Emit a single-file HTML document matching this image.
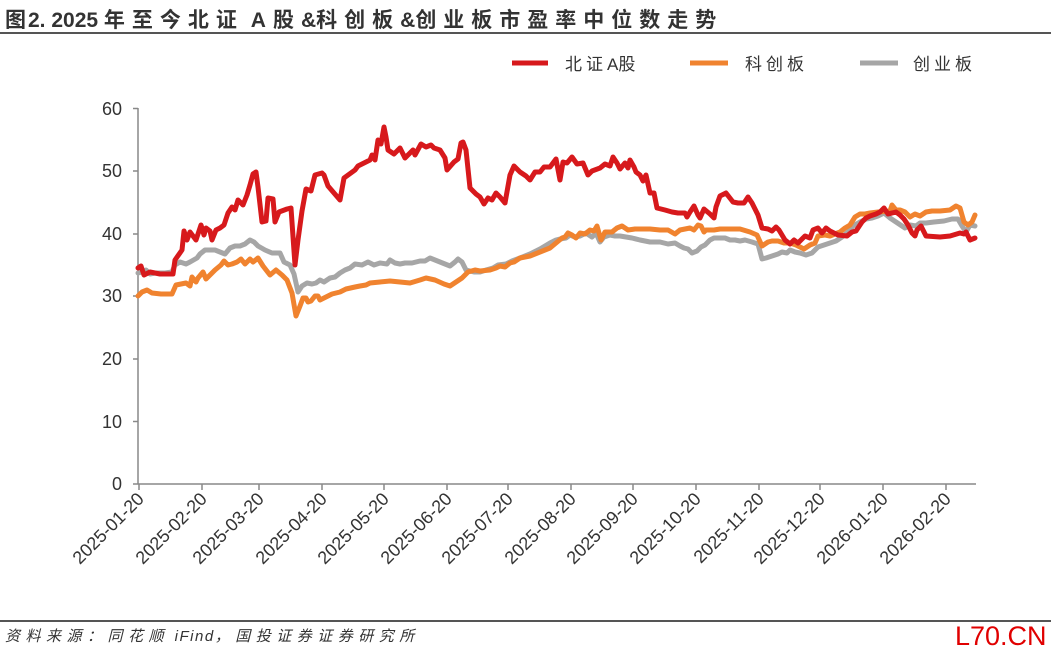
<!DOCTYPE html>
<html><head><meta charset="utf-8"><style>
html,body{margin:0;padding:0;background:#fff;}
body{width:1051px;height:651px;overflow:hidden;position:relative;font-family:"Liberation Sans","Noto Sans CJK SC",sans-serif;}
</style></head><body>
<svg width="1051" height="651" viewBox="0 0 1051 651" xmlns="http://www.w3.org/2000/svg" style="position:absolute;left:0;top:0">
<text x="5" y="27" font-size="21" font-weight="bold" fill="#333" font-family="Liberation Sans,Noto Sans CJK SC,sans-serif"><tspan letter-spacing="2">图</tspan><tspan letter-spacing="0">2. 2025 </tspan><tspan letter-spacing="7">年至今北证</tspan><tspan letter-spacing="1"> A </tspan><tspan letter-spacing="7">股</tspan><tspan letter-spacing="0">&amp;</tspan><tspan letter-spacing="7">科创板</tspan><tspan letter-spacing="0">&amp;</tspan><tspan letter-spacing="7">创业板市盈率中位数走势</tspan></text>
<line x1="0" y1="33" x2="1051" y2="33" stroke="#555" stroke-width="2"/>
<g font-size="17" fill="#333" font-family="Liberation Sans,Noto Sans CJK SC,sans-serif">
<line x1="512" y1="63" x2="548" y2="63" stroke="#d7191c" stroke-width="5"/><text x="565" y="70"><tspan letter-spacing="4">北证</tspan>A<tspan letter-spacing="0">股</tspan></text>
<line x1="690" y1="63" x2="728" y2="63" stroke="#f0832f" stroke-width="5"/><text x="745" y="70" letter-spacing="4">科创板</text>
<line x1="860" y1="63" x2="898" y2="63" stroke="#a6a6a6" stroke-width="5"/><text x="913" y="70" letter-spacing="4">创业板</text>
</g>
<g stroke="#888" stroke-width="1.5">
<line x1="138" y1="108" x2="138" y2="484"/>
<line x1="138" y1="484" x2="976" y2="484"/>
<line x1="133" y1="108.5" x2="138" y2="108.5"/><line x1="133" y1="171" x2="138" y2="171"/><line x1="133" y1="234" x2="138" y2="234"/><line x1="133" y1="296" x2="138" y2="296"/><line x1="133" y1="359" x2="138" y2="359"/><line x1="133" y1="421.5" x2="138" y2="421.5"/><line x1="133" y1="484" x2="138" y2="484"/>
<line x1="139" y1="484" x2="139" y2="490"/><line x1="202" y1="484" x2="202" y2="490"/><line x1="259" y1="484" x2="259" y2="490"/><line x1="322" y1="484" x2="322" y2="490"/><line x1="384" y1="484" x2="384" y2="490"/><line x1="447" y1="484" x2="447" y2="490"/><line x1="508" y1="484" x2="508" y2="490"/><line x1="571" y1="484" x2="571" y2="490"/><line x1="633" y1="484" x2="633" y2="490"/><line x1="696" y1="484" x2="696" y2="490"/><line x1="759" y1="484" x2="759" y2="490"/><line x1="820" y1="484" x2="820" y2="490"/><line x1="883" y1="484" x2="883" y2="490"/><line x1="946" y1="484" x2="946" y2="490"/>
</g>
<g font-size="18" fill="#333" text-anchor="end" font-family="Liberation Sans,sans-serif">
<text x="122" y="115">60</text><text x="122" y="177">50</text><text x="122" y="240">40</text><text x="122" y="302">30</text><text x="122" y="365">20</text><text x="122" y="428">10</text><text x="122" y="490">0</text>
</g>
<g font-size="18" fill="#333" text-anchor="end" font-family="Liberation Sans,sans-serif">
<text transform="translate(145,500) rotate(-45)">2025-01-20</text>
<text transform="translate(208,500) rotate(-45)">2025-02-20</text>
<text transform="translate(265,500) rotate(-45)">2025-03-20</text>
<text transform="translate(328,500) rotate(-45)">2025-04-20</text>
<text transform="translate(390,500) rotate(-45)">2025-05-20</text>
<text transform="translate(453,500) rotate(-45)">2025-06-20</text>
<text transform="translate(514,500) rotate(-45)">2025-07-20</text>
<text transform="translate(577,500) rotate(-45)">2025-08-20</text>
<text transform="translate(639,500) rotate(-45)">2025-09-20</text>
<text transform="translate(702,500) rotate(-45)">2025-10-20</text>
<text transform="translate(765,500) rotate(-45)">2025-11-20</text>
<text transform="translate(826,500) rotate(-45)">2025-12-20</text>
<text transform="translate(889,500) rotate(-45)">2026-01-20</text>
<text transform="translate(952,500) rotate(-45)">2026-02-20</text>
</g>
<g fill="none" stroke-width="5" stroke-linejoin="round" stroke-linecap="round">
<polyline stroke="#a6a6a6" points="138,273 142,272 146,270 150,274 155,273 165,273 172,272 175,265 180,262 186,264 190,262 197,258 200,254 205,250 215,250 220,252 225,254 230,248 235,246 240,246 245,244 250,240 254,242 258,246 265,250 272,253 280,253 284,262 290,265 294,274 298,292 302,286 307,283 312,284 316,283 320,280 324,282 330,278 335,277 340,273 345,270 350,268 355,264 362,265 368,262 374,265 380,263 387,264 390,260 395,263 400,264 405,263 412,263 420,261 425,261 430,258 440,262 445,264 450,266 455,262 458,259 462,262 466,270 474,272 480,272 486,270 493,268 498,265 506,264 512,261 520,258 530,254 540,249 545,246 550,243 556,240 560,239 566,238 570,235 575,237 580,236 586,233 592,237 596,233 600,242 604,237 610,235 615,236 620,236 626,237 632,238 640,240 650,242 660,242 668,244 675,243 680,246 684,248 688,249 692,253 697,251 701,247 705,245 710,240 714,238 720,238 725,238 730,240 735,240 740,241 745,240 752,242 758,244 762,259 766,258 772,256 778,254 782,252 787,253 790,250 795,252 800,253 806,255 812,253 818,247 824,245 830,243 836,241 842,237 848,232 853,226 860,222 866,219 872,218 878,216 884,213 890,218 896,222 902,226 905,228 910,225 916,226 920,223 926,223 934,222 944,221 952,219 958,219 962,226 966,232 970,225 975,226"/>
<polyline stroke="#f0832f" points="138,296 142,292 147,290 152,293 161,294 172,294 176,285 186,283 190,286 192,277 196,282 198,278 203,272 206,279 210,275 215,270 221,265 224,261 228,265 232,264 237,262 241,259 245,264 250,259 253,262 258,258 263,266 270,275 276,270 282,275 287,280 292,293 296,316 300,306 303,298 306,298 308,302 311,301 315,296 318,296 320,300 324,298 332,294 340,292 346,289 355,287 360,286 366,285 370,283 380,282 390,281 400,282 410,283 420,280 426,278 435,280 444,284 450,286 456,282 462,278 468,272 475,270 480,271 490,270 496,268 500,266 505,267 510,263 514,262 520,258 530,256 540,252 550,248 556,243 562,238 565,237 568,233 572,235 576,238 580,233 585,234 590,230 594,231 597,226 601,240 605,232 612,232 617,228 622,226 628,230 635,229 640,229 650,229 660,230 668,230 675,234 680,230 690,228 694,230 698,225 701,226 704,232 706,230 714,230 720,229 730,229 740,229 750,232 757,235 762,246 768,242 772,241 778,241 784,243 790,243 796,245 800,247 804,249 810,245 815,243 818,236 825,235 830,236 835,234 840,232 845,228 850,225 855,217 860,214 865,214 870,213 878,212 890,211 892,205 896,210 900,210 905,212 910,217 915,214 920,216 926,212 932,211 940,211 950,210 956,206 960,208 964,222 968,225 972,222 975,215"/>
<polyline stroke="#d7191c" points="138,268 141,266 144,275 150,272 160,274 173,274 175,260 182,250 184,231 187,240 190,232 196,240 199,231 201,225 204,235 206,228 210,231 212,240 216,230 220,228 224,225 228,213 232,207 235,210 238,200 243,205 247,195 250,185 253,174 256,172 258,187 262,222 266,221 268,198 273,199 275,222 279,212 287,209 291,208 295,265 298,240 302,211 306,189 311,191 315,175 322,173 324,175 328,186 340,200 344,178 355,170 358,166 366,162 370,160 372,155 375,160 378,140 381,144 384,127 386,137 388,150 394,154 400,148 405,158 413,150 415,155 421,144 426,147 431,145 434,148 440,150 445,158 447,170 454,162 458,159 461,143 463,142 466,150 470,188 476,194 480,197 484,204 488,198 492,200 496,193 500,197 505,203 510,175 514,166 520,172 526,176 530,180 535,172 540,172 544,167 550,167 556,159 560,180 563,162 567,163 572,157 577,164 583,163 588,175 592,171 600,168 605,164 610,166 613,157 617,163 620,169 625,163 628,168 630,160 634,167 636,172 640,175 643,181 646,175 650,193 654,193 657,208 665,210 672,212 678,213 685,213 687,217 690,212 694,206 698,215 700,218 704,209 710,214 714,218 716,207 720,196 726,193 733,202 738,203 744,203 748,197 752,203 758,215 762,228 768,229 772,231 776,227 779,230 785,240 790,244 794,240 798,243 805,236 810,238 813,230 818,228 822,233 826,228 830,231 838,235 847,236 852,232 856,231 862,222 866,218 870,216 876,214 880,212 884,208 888,214 896,212 900,215 904,219 908,225 912,233 915,236 917,230 921,226 926,236 940,237 950,236 960,233 964,234 966,232 970,240 975,238"/>
</g>
<line x1="0" y1="621" x2="1051" y2="621" stroke="#555" stroke-width="2"/>
<text x="5" y="641" font-size="15" font-style="italic" fill="#333" font-family="Liberation Sans,Noto Sans CJK SC,sans-serif"><tspan letter-spacing="5.5">资料来源：同花顺</tspan><tspan letter-spacing="1.5"> iFind</tspan><tspan letter-spacing="5.5">，国投证券证券研究所</tspan></text>
<text x="955" y="645" font-size="27" fill="#e00000" font-family="Liberation Sans,sans-serif">L70.CN</text>
</svg>
</body></html>
